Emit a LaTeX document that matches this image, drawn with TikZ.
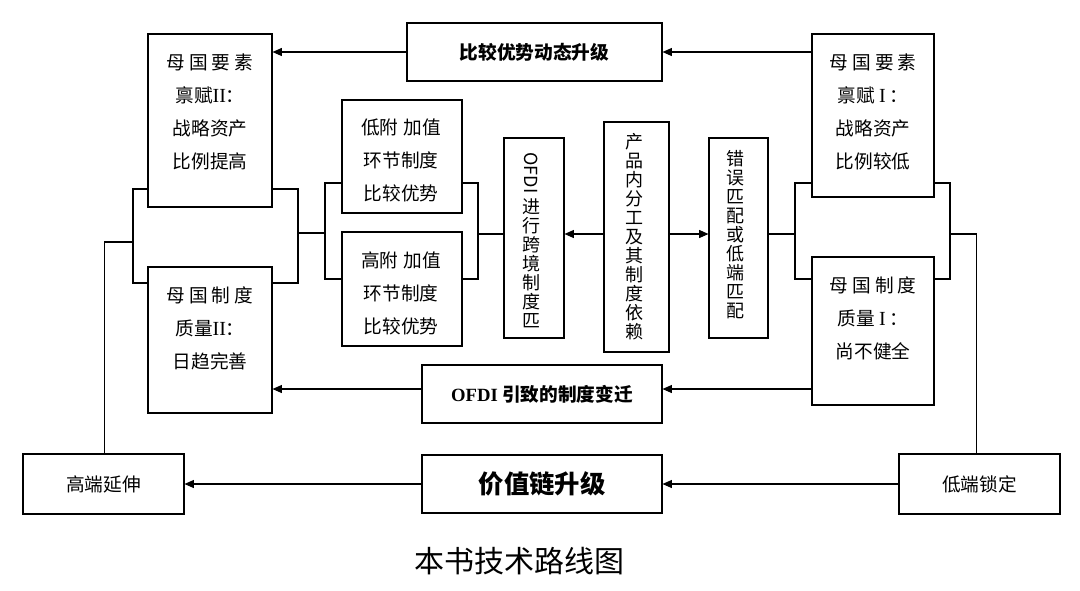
\documentclass[tikz,border=0pt]{standalone}
\usepackage{fontspec}
\setmainfont{Noto Sans CJK SC}
\newfontfamily\latinserif{Liberation Serif}
\usetikzlibrary{arrows.meta}
\begin{document}
\begin{tikzpicture}[x=0.75pt,y=-0.75pt,
  box/.style={draw, line width=0.8pt, inner sep=0pt},
  sz/.style 2 args={minimum width=#1*0.75pt, minimum height=#2*0.75pt},
  txt/.style={align=center, inner sep=0pt, font=\fontsize{14}{24.75}\selectfont},
  vtxt/.style={align=center, inner sep=0pt, font=\fontsize{13.5}{14.25}\selectfont},
  head/.style={font=\fontsize{14}{16}\selectfont\bfseries},
  plain/.style={font=\fontsize{14}{16}\selectfont},
  con/.style={line width=0.8pt},
  arr/.style={line width=0.8pt, -{Triangle[length=7pt,width=6pt]}}]
\useasboundingbox (0,0) rectangle (1080,590);

% boxes
\node[box, sz={124}{173}] (me2) at (210,120.5) {};
\node[box, sz={124}{146}] (mi2) at (210,340) {};
\node[box, sz={120}{113}] (lo) at (402,156.5) {};
\node[box, sz={120}{114}] (hi) at (402,289) {};
\node[box, sz={60}{200}] (ofdi) at (534,238) {};
\node[box, sz={65}{230}] (mid) at (636.5,237) {};
\node[box, sz={59}{200}] (err) at (738.5,238) {};
\node[box, sz={122}{163}] (me1) at (873,115.5) {};
\node[box, sz={122}{148}] (mi1) at (873,331) {};
\node[box, sz={255}{58}, head] (cmp) at (534.5,52) {比较优势动态升级};
\node[box, sz={240}{58}, head] (ofc) at (542,394) {{\latinserif\bfseries OFDI} 引致的制度变迁};
\node[box, sz={240}{58}, font=\fontsize{19}{22}\selectfont\bfseries] (vc) at (542,484) {价值链升级};
\node[box, sz={161}{60}, plain] (he) at (103.5,484) {高端延伸};
\node[box, sz={161}{60}, plain] (le) at (979.5,484) {低端锁定};

% texts inside boxes
\node[txt] (me2t) at (210,112) {母\hspace{3pt}国\hspace{3pt}要\hspace{3pt}素\\禀赋{\latinserif\fontsize{15}{24.75}\selectfont II}：\\战略资产\\比例提高};
\node[txt] (mi2t) at (210,328.5) {母\hspace{3pt}国\hspace{3pt}制\hspace{3pt}度\\质量{\latinserif\fontsize{15}{24.75}\selectfont II}：\\日趋完善};
\node[txt] (lot) at (401,160.5) {低附\hspace{4pt}加值\\环节制度\\比较优势};
\node[txt] (hit) at (401,293.5) {高附\hspace{4pt}加值\\环节制度\\比较优势};
\node[txt] (me1t) at (873,112) {母\hspace{3pt}国\hspace{3pt}要\hspace{3pt}素\\禀赋\hspace{3pt}{\latinserif\fontsize{15}{24.75}\selectfont I}\hspace{3pt}：\\战略资产\\比例较低};
\node[txt] (mi1t) at (873,318.5) {母\hspace{3pt}国\hspace{3pt}制\hspace{3pt}度\\质量\hspace{3pt}{\latinserif\fontsize{15}{24.75}\selectfont I}\hspace{3pt}：\\尚不健全};
\node[vtxt] (ofdit) at (531,240) {\rotatebox{-90}{OFDI}\\[3pt]进\\行\\跨\\境\\制\\度\\匹};
\node[vtxt] (midt) at (634,237) {产\\品\\内\\分\\工\\及\\其\\制\\度\\依\\赖};
\node[vtxt] (errt) at (735,235) {错\\误\\匹\\配\\或\\低\\端\\匹\\配};

% title
\node[font=\fontsize{22.5}{26}\selectfont, inner sep=0pt] (title) at (519,561) {本书技术路线图};

% bracket coordinates
\coordinate (row) at (600,234);
\coordinate (rowo) at (540,389);
\coordinate (kA1) at (133,189); \coordinate (kA2) at (133,283); \coordinate (kAm) at (133,242);
\coordinate (kB1) at (298,189); \coordinate (kB2) at (298,283); \coordinate (kBm) at (298,233);
\coordinate (kC1) at (325,183); \coordinate (kC2) at (325,279);
\coordinate (kD1) at (478,183); \coordinate (kD2) at (478,279);
\coordinate (kE1) at (795,183); \coordinate (kE2) at (795,279);
\coordinate (kF1) at (950,183); \coordinate (kF2) at (950,279);

% brackets
\draw[con] (me2.west |- kA1) -- (kA1) -- (kA2) -- (mi2.west |- kA2);
\draw[con] (me2.east |- kB1) -- (kB1) -- (kB2) -- (mi2.east |- kB2);
\draw[con] (kBm) -- (kC1 |- kBm);
\draw[con] (lo.west |- kC1) -- (kC1) -- (kC2) -- (hi.west |- kC2);
\draw[con] (lo.east |- kD1) -- (kD1) -- (kD2) -- (hi.east |- kD2);
\draw[con] (kD1 |- row) -- (ofdi.west |- row);
\draw[con] (me1.west |- kE1) -- (kE1) -- (kE2) -- (mi1.west |- kE2);
\draw[con] (err.east |- row) -- (kE1 |- row);
\draw[con] (me1.east |- kF1) -- (kF1) -- (kF2) -- (mi1.east |- kF2);
\draw[con] (kF1 |- row) -| ([xshift=-2pt]le.north);
\draw[con] (kAm) -| ([xshift=1pt]he.north);

% arrows
\draw[arr] (mid.west |- row) -- (ofdi.east |- row);
\draw[arr] (mid.east |- row) -- (err.west |- row);
\draw[arr] (me1.west |- cmp.east) -- (cmp.east);
\draw[arr] (cmp.west) -- (me2.east |- cmp.west);
\draw[arr] (mi1.west |- rowo) -- (ofc.east |- rowo);
\draw[arr] (ofc.west |- rowo) -- (mi2.east |- rowo);
\draw[arr] (le.west) -- (vc.east);
\draw[arr] (vc.west) -- (he.east);
\end{tikzpicture}
\end{document}
